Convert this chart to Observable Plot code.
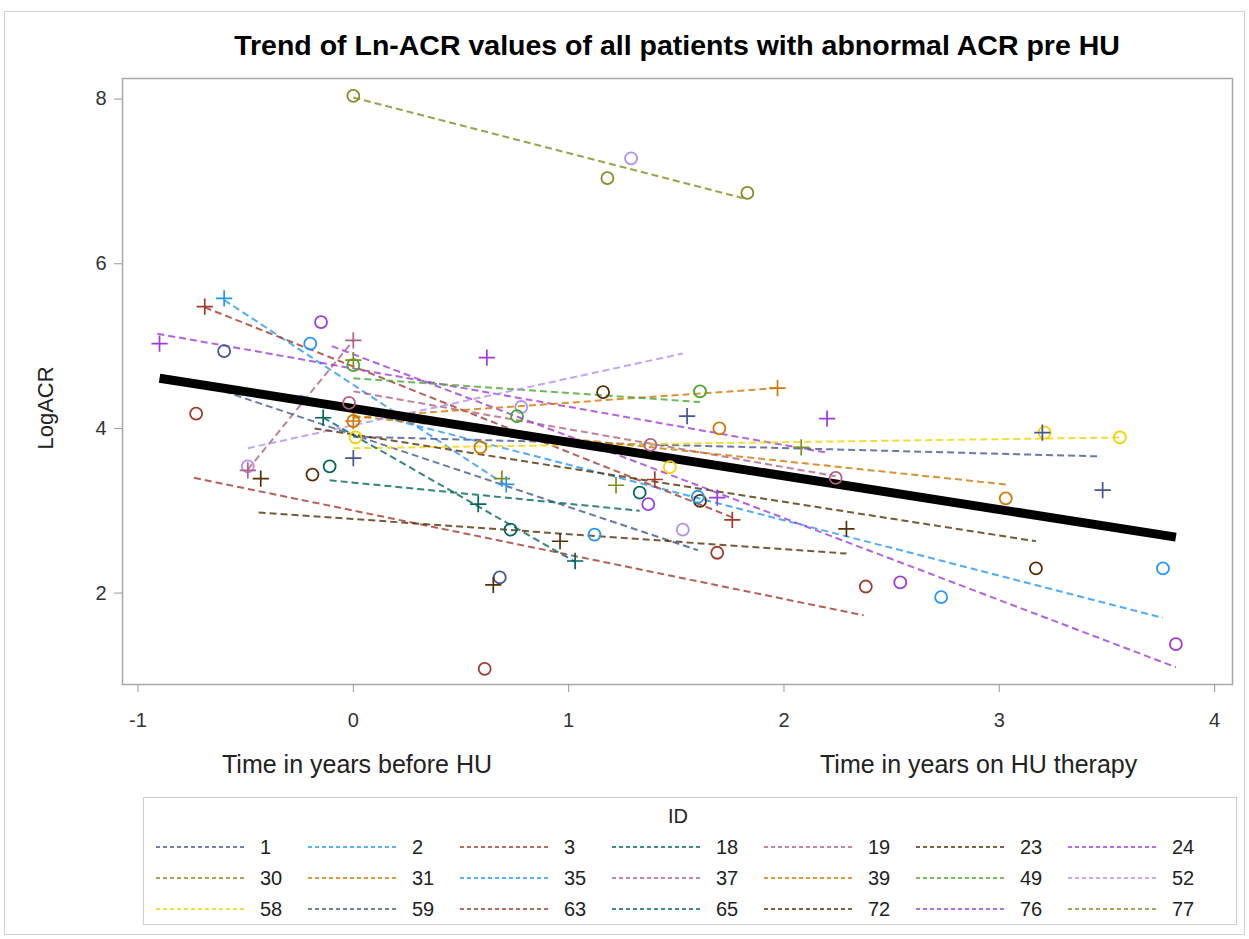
<!DOCTYPE html>
<html><head><meta charset="utf-8">
<script src="https://cdn.jsdelivr.net/npm/d3@7"></script>
<script src="https://cdn.jsdelivr.net/npm/@observablehq/plot@0.6"></script>
<style>
body{margin:0;background:#fff;font-family:"Liberation Sans",Arial,sans-serif;}
#wrap{position:relative;width:1249px;height:939px;overflow:hidden;background:#fff}
#border{position:absolute;left:4px;top:11px;width:1241px;height:924px;border:1px solid #d0d0d0;box-sizing:border-box;pointer-events:none}
#title{position:absolute;left:122px;width:1110px;top:29px;text-align:center;font-weight:bold;font-size:28.5px;color:#000;white-space:nowrap}
#chart{position:absolute;left:0;top:70px}
#ylab{position:absolute;left:46px;top:408px;transform:translate(-50%,-50%) rotate(-90deg);font-size:22px;color:#222;white-space:nowrap}
.xlab{position:absolute;top:750px;font-size:25px;color:#222;white-space:nowrap}
#legend{position:absolute;left:143px;top:797px;width:1094px;height:128px;border:1px solid #cfcfcf;box-sizing:border-box}
</style></head>
<body>
<div id="wrap">
  <div id="title">Trend of Ln-ACR values of all patients with abnormal ACR pre HU</div>
  <div id="chart"></div>
  <div id="ylab">LogACR</div>
  <div class="xlab" style="left:222px">Time in years before HU</div>
  <div class="xlab" style="left:820px">Time in years on HU therapy</div>
  <div id="legend"></div>
  <div id="border"></div>
</div>
<script>
// Patient IDs (legend order) and their colours
const ids = [1,2,3,18,19,23,24,30,31,35,37,39,49,52,58,59,63,65,72,76,77];
const palette = ["#445694","#2597FA","#A23A2E","#01665E","#B26084","#543005","#9D3CDB",
                 "#7F8E1F","#D17800","#2597FA","#B26084","#D17800","#47A82A","#B38EF3",
                 "#F5D300","#445694","#A23A2E","#01665E","#543005","#9D3CDB","#7F8E1F"];

// Per-patient fitted (dashed) lines: start and end
const fitId = [30,2,35,3,63,19,37,24,76,1,59,58,39,31,49,52,18,65,23,72];
const fitX0 = [0.00,-0.60,-0.25,-0.69,-0.74,-0.49,0.00,-0.91,-0.10,-0.60,0.00,0.00,0.00,0.00,0.00,-0.49,-0.14,-0.11,-0.44,-0.18];
const fitY0 = [8.02,5.56,4.40,5.47,3.40,3.50,4.45,5.15,5.00,4.45,3.90,3.76,4.13,4.15,4.61,3.76,4.13,3.37,2.98,4.00];
const fitX1 = [1.82,0.71,3.76,1.76,2.37,0.00,2.24,2.19,3.82,1.60,3.47,3.56,1.97,3.03,1.61,1.53,1.03,1.33,2.29,3.17];
const fitY1 = [6.79,3.31,1.70,2.92,1.73,5.07,3.42,3.71,1.10,2.52,3.66,3.89,4.49,3.32,4.32,4.91,2.38,3.00,2.48,2.63];

// Observed values shown with circles
const circId = [30,30,30,52,24,2,1,3,49,37,31,58,52,65,72,31,18,1,63,72,49,52,49,39,37,58,37,65,76,72,35,52,35,63,63,76,58,58,31,72,35,35,76];
const circX  = [0.00,1.18,1.83,1.29,-0.15,-0.20,-0.60,-0.73,0.00,-0.02,0.00,0.01,-0.49,-0.11,-0.19,0.59,0.73,0.68,0.61,1.16,1.61,0.78,0.76,1.70,1.38,1.47,2.24,1.33,1.37,1.61,1.60,1.53,1.12,1.69,2.38,2.54,3.21,3.56,3.03,3.17,3.76,2.73,3.82];
const circY  = [8.04,7.04,6.86,7.28,5.29,5.03,4.94,4.18,4.77,4.31,4.09,3.89,3.54,3.54,3.44,3.77,2.77,2.19,1.08,4.44,4.45,4.26,4.15,4.00,3.80,3.53,3.40,3.22,3.08,3.12,3.17,2.77,2.71,2.49,2.08,2.13,3.95,3.89,3.15,2.30,2.30,1.95,1.38];

// Observed values shown with plus signs
const plusId = [24,3,2,19,19,24,77,39,59,23,18,77,2,18,23,39,59,24,77,3,77,76,3,23,23,18,59,59];
const plusX  = [-0.90,-0.69,-0.60,0.00,-0.49,0.62,0.00,0.00,0.00,-0.43,-0.14,0.69,0.71,0.58,0.65,1.97,1.55,2.20,2.08,1.40,1.22,1.69,1.76,2.29,0.96,1.03,3.20,3.48];
const plusY  = [5.03,5.48,5.58,5.07,3.49,4.86,4.83,4.09,3.64,3.39,4.13,3.39,3.32,3.08,2.10,4.49,4.15,4.12,3.77,3.38,3.31,3.16,2.89,2.78,2.63,2.39,3.95,3.25];

// Overall trend line
const trendX = [-0.90, 3.82];
const trendY = [4.61, 2.68];

// Axis ticks
const xTicks = [-1,0,1,2,3,4];
const yTicks = [2,4,6,8];

const fits = fitId.map((id,i)=>({id:String(id), x0:fitX0[i], y0:fitY0[i], x1:fitX1[i], y1:fitY1[i]}));
const circles = circId.map((id,i)=>({id:String(id), x:circX[i], y:circY[i]}));
const pluses = plusId.map((id,i)=>({id:String(id), x:plusX[i], y:plusY[i]}));
const trend = trendX.map((x,i)=>({x, y:trendY[i]}));

const chart = Plot.plot({
  width:1249, height:720,
  marginTop:8, marginBottom:106, marginLeft:122, marginRight:17,
  x:{domain:[-1.072,4.083]},
  y:{domain:[0.89,8.25]},
  color:{type:"ordinal", domain:ids.map(String), range:palette},
  style:{fontFamily:"Liberation Sans, Arial, sans-serif", fontSize:"20px", color:"#333", background:"transparent"},
  marks:[
    Plot.link(fits, {x1:"x0", y1:"y0", x2:"x1", y2:"y1", stroke:"id", strokeWidth:2, strokeDasharray:"7,4", strokeOpacity:0.8}),
    Plot.line(trend, {x:"x", y:"y", stroke:"#000", strokeWidth:9, strokeLinecap:"butt"}),
    Plot.dot(circles, {x:"x", y:"y", stroke:"id", r:6, strokeWidth:1.8, symbol:"circle"}),
    Plot.dot(pluses, {x:"x", y:"y", stroke:"id", r:5.3, strokeWidth:1.7, symbol:"plus"}),
    Plot.frame({stroke:"#a8a8a8", strokeWidth:1.5}),
    Plot.axisX({ticks:xTicks, tickFormat:d=>String(d), tickSize:8, tickPadding:20, label:null, stroke:"#999", fontSize:20}),
    Plot.axisY({ticks:yTicks, tickFormat:d=>String(d), tickSize:8, tickPadding:8, label:null, stroke:"#999", fontSize:20})
  ]
});
document.getElementById("chart").appendChild(chart);

// Legend
const lg = d3.select("#legend").append("svg").attr("width",1092).attr("height",126)
  .style("font-family","Liberation Sans, Arial, sans-serif");
lg.append("text").attr("x",534).attr("y",25).attr("text-anchor","middle")
  .attr("font-size",20).attr("fill","#222").text("ID");
ids.forEach((id,i)=>{
  const row = Math.floor(i/7), col = i%7;
  const lx = 12 + col*152, ly = 49 + row*31;
  lg.append("line").attr("x1",lx).attr("x2",lx+88).attr("y1",ly).attr("y2",ly)
    .attr("stroke",palette[i]).attr("stroke-width",1.6).attr("stroke-dasharray","4,3");
  lg.append("text").attr("x",lx+104).attr("y",ly+7).attr("font-size",20).attr("fill","#222").text(id);
});
</script>
</body></html>
